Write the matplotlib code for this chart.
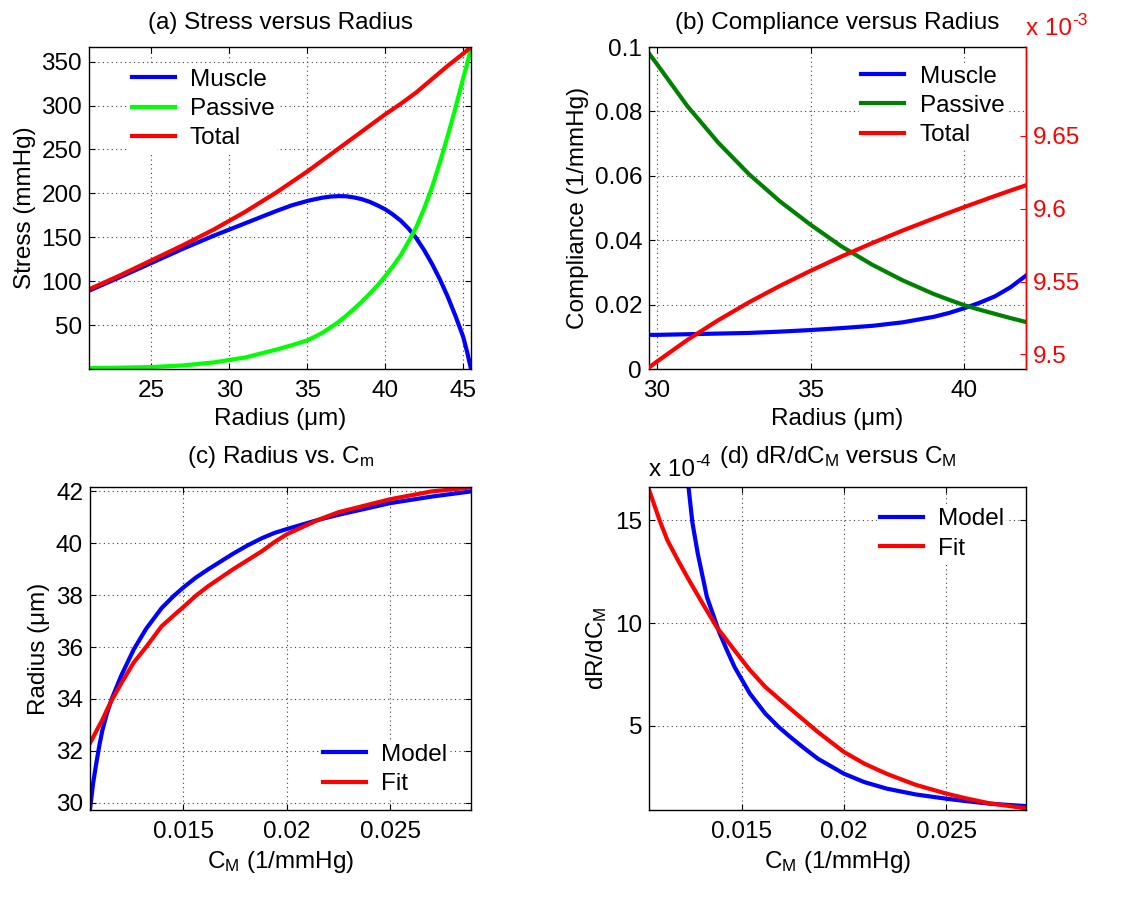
import matplotlib
matplotlib.use('Agg')
import matplotlib.pyplot as plt
from matplotlib.ticker import FixedLocator, FixedFormatter

plt.rcParams['font.family'] = ['Liberation Sans', 'DejaVu Sans']
plt.rcParams['mathtext.fontset'] = 'custom'
plt.rcParams['mathtext.rm'] = 'Liberation Sans'
plt.rcParams['mathtext.it'] = 'Liberation Sans:italic'
plt.rcParams['mathtext.default'] = 'regular'
plt.rcParams['font.size'] = 17.5
plt.rcParams['axes.linewidth'] = 1.0

FS = 17.5

# (a) stress versus radius
radius_a = [21, 23, 25, 27, 29, 31, 33, 34, 35, 35.5, 36, 36.5, 37, 37.5, 38, 38.5, 39,
            39.5, 40, 40.5, 41, 41.5, 42, 42.5, 43, 43.5, 44, 44.5, 45, 45.25, 45.5]
muscle_a = [89.5, 105, 121, 137, 152, 166, 180, 186.5, 191.5, 193.5, 195.3, 196.5, 197,
            196.8, 195.5, 193.5, 190.5, 186.5, 182, 176, 169, 160, 149, 135.5, 120,
            102.5, 83, 61, 37, 20, 0.5]
passive_a = [1.5, 2.0, 2.7, 4.5, 8, 13.5, 22.5, 27.5, 33, 37.3, 42, 47.8, 54, 61, 69, 77,
             86, 95.5, 106, 117.5, 130, 145.5, 162, 183, 207, 235, 265, 297, 331, 347,
             365.5]
total_a = [91, 107, 124, 141, 159, 179, 201, 213, 225, 231.5, 238, 244.5, 251, 257.5, 264,
           270.5, 277, 283.5, 290, 296, 302, 308.5, 315, 322.5, 330, 337.5, 345, 352, 359,
           362.7, 366.5]

# (b) compliance versus radius (total on right axis, x 10^-3)
radius_b = [29.75, 30, 31, 32, 33, 34, 35, 36, 37, 38, 39, 39.5, 40, 40.5, 41, 41.5, 42]
muscle_b = [0.0106, 0.0106, 0.0108, 0.0110, 0.0112, 0.0116, 0.0121, 0.0127, 0.0134,
            0.0145, 0.0162, 0.0174, 0.0189, 0.0206, 0.0226, 0.0254, 0.0290]
passive_b = [0.098, 0.0948, 0.0816, 0.0703, 0.0605, 0.0521, 0.0448, 0.0381, 0.0324,
             0.0275, 0.0233, 0.0215, 0.0198, 0.0184, 0.0171, 0.0158, 0.0146]
total_b = [9.491, 9.495, 9.510, 9.5235, 9.5358, 9.547, 9.5574, 9.5672, 9.5764,
           9.5851, 9.5933, 9.5973, 9.6012, 9.605, 9.6088, 9.6125, 9.6161]

# (c) radius vs C_m
cm_c = [0.01048, 0.01063, 0.01078, 0.01093, 0.01108, 0.0113, 0.01153, 0.01199, 0.01259,
        0.01319, 0.01394, 0.0145, 0.0150, 0.0156, 0.0162, 0.0174, 0.0181, 0.0188, 0.0194,
        0.0200, 0.0215, 0.0225, 0.0250, 0.0270, 0.0289]
model_c = [29.75, 30.75, 31.5, 32.2, 32.8, 33.45, 34.0, 34.9, 35.9,
           36.7, 37.5, 37.95, 38.3, 38.68, 39.0, 39.6, 39.92, 40.2, 40.4,
           40.55, 40.9, 41.1, 41.55, 41.8, 42.0]
fit_c = [32.3, 32.52, 32.75, 32.98, 33.2, 33.58, 33.95, 34.6, 35.4,
         36.0, 36.8, 37.2, 37.55, 37.98, 38.35, 39.0, 39.35, 39.7, 40.05,
         40.35, 40.9, 41.2, 41.7, 42.0, 42.15]

# (d) dR/dC_M versus C_M (x 10^-4)
cm_model_d = [0.01241, 0.0126, 0.01286, 0.01331, 0.01391, 0.0143, 0.01466, 0.01541,
              0.01617, 0.0168, 0.01738, 0.0180, 0.01873, 0.0200, 0.0210, 0.0221, 0.0235,
              0.0250, 0.0260, 0.0271, 0.0289]
model_d = [16.63, 14.9, 13.4, 11.27, 9.56, 8.65, 7.86, 6.56, 5.58, 4.95, 4.45, 3.95,
           3.39, 2.66, 2.25, 1.93, 1.65, 1.44, 1.32, 1.2, 1.08]
cm_fit_d = [0.01048, 0.0110, 0.01138, 0.0119, 0.01244, 0.0131, 0.01379, 0.01466, 0.0154,
            0.01617, 0.01738, 0.01873, 0.0200, 0.0210, 0.0221, 0.0235, 0.0250, 0.0260,
            0.0271, 0.0289]
fit_d = [16.5, 15.0, 14.03, 13.05, 12.08, 10.95, 9.8, 8.67, 7.72, 6.88, 5.83, 4.69,
         3.72, 3.15, 2.65, 2.12, 1.69, 1.45, 1.22, 0.97]

W, H = 1126, 898
fig = plt.figure(figsize=(W / 100, H / 100), dpi=100)


def px_axes(left, top, right, bottom):
    return fig.add_axes([left / W, 1 - bottom / H, (right - left) / W, (bottom - top) / H])


def style(ax, right_ticks=True):
    ax.grid(True, color='0.25', linestyle=(0, (1, 3)), linewidth=0.8)
    ax.tick_params(direction='in', length=4, width=0.8, top=True, right=right_ticks,
                   labelsize=FS)
    ax.tick_params(axis='x', pad=8)
    ax.tick_params(axis='y', pad=5)


def add_legend(ax, handles, labels, x, y):
    leg = ax.legend(handles, labels, loc='upper left', bbox_to_anchor=(x, y),
                    fontsize=FS, frameon=True, facecolor='white', edgecolor='none',
                    framealpha=1, borderpad=0.1, borderaxespad=0, handlelength=1.77,
                    handletextpad=0.62, labelspacing=0.3)
    leg.get_frame().set_boxstyle('square', pad=0)
    return leg


def power_label(ax, x, y, exponent, color='black', ha='left'):
    base = ax.text(x, y, 'x 10', color=color, fontsize=FS, transform=ax.transAxes,
                   ha=ha, va='baseline')
    ax.annotate(exponent, xy=(1.0, 1.0), xycoords=base, xytext=(0.5, -2),
                textcoords='offset points', color=color, fontsize=12.5,
                ha='left', va='center')


lw = 3.0

# (a)
ax = px_axes(89, 47, 471, 369)
h1, = ax.plot(radius_a, muscle_a, color='blue', lw=lw)
h2, = ax.plot(radius_a, passive_a, color='#00ff00', lw=lw)
h3, = ax.plot(radius_a, total_a, color='red', lw=lw)
ax.set_xlim(21, 45.5)
ax.set_ylim(0.5, 366.5)
ax.set_xticks([25, 30, 35, 40, 45])
ax.set_yticks([50, 100, 150, 200, 250, 300, 350])
style(ax)
ax.set_title('(a) Stress versus Radius', fontsize=FS, pad=13)
ax.set_xlabel('Radius (μm)', fontsize=FS, labelpad=4)
ax.set_ylabel('Stress (mmHg)', fontsize=FS, labelpad=4)
add_legend(ax, [h1, h2, h3], ['Muscle', 'Passive', 'Total'], 0.105, 0.94)

# (b)
ax = px_axes(649, 47, 1026, 369)
ax2 = ax.twinx()
h1, = ax.plot(radius_b, muscle_b, color='blue', lw=lw)
h2, = ax.plot(radius_b, passive_b, color='green', lw=lw)
h3, = ax2.plot(radius_b, total_b, color='red', lw=lw)
ax.set_xlim(29.75, 42)
ax.set_ylim(0, 0.1)
ax.set_xticks([30, 35, 40])
ax.yaxis.set_major_locator(FixedLocator([0, 0.02, 0.04, 0.06, 0.08, 0.1]))
ax.yaxis.set_major_formatter(FixedFormatter(['0', '0.02', '0.04', '0.06', '0.08', '0.1']))
style(ax, right_ticks=False)
ax2.set_ylim(9.49, 9.711)
ax2.yaxis.set_major_locator(FixedLocator([9.5, 9.55, 9.6, 9.65]))
ax2.yaxis.set_major_formatter(FixedFormatter(['9.5', '9.55', '9.6', '9.65']))
ax2.tick_params(axis='y', direction='in', length=4, width=0.8, colors='red',
                labelsize=FS, pad=5)
for side in ['left', 'top', 'bottom']:
    ax2.spines[side].set_visible(False)
ax2.spines['right'].set_color('red')
power_label(ax2, 1.0, 1.0 + 12 / 322, '-3', color='red')
ax.set_title('(b) Compliance versus Radius', fontsize=FS, pad=13)
ax.set_xlabel('Radius (μm)', fontsize=FS, labelpad=4)
ax.set_ylabel('Compliance (1/mmHg)', fontsize=FS, labelpad=4)
add_legend(ax2, [h1, h2, h3], ['Muscle', 'Passive', 'Total'], 0.557, 0.95)

# (c)
ax = px_axes(90, 487, 471, 810)
h1, = ax.plot(cm_c, model_c, color='blue', lw=lw)
h2, = ax.plot(cm_c, fit_c, color='red', lw=lw)
ax.set_xlim(0.01048, 0.0289)
ax.set_ylim(29.72, 42.17)
ax.xaxis.set_major_locator(FixedLocator([0.015, 0.02, 0.025]))
ax.xaxis.set_major_formatter(FixedFormatter(['0.015', '0.02', '0.025']))
ax.set_yticks([30, 32, 34, 36, 38, 40, 42])
style(ax)
ax.set_title('(c) Radius vs. C$_m$', fontsize=FS, pad=17)
ax.set_xlabel('C$_M$ (1/mmHg)', fontsize=FS, labelpad=4)
ax.set_ylabel('Radius (μm)', fontsize=FS, labelpad=4)
add_legend(ax, [h1, h2], ['Model', 'Fit'], 0.606, 0.2125)

# (d)
ax = px_axes(649, 487, 1026, 810)
h1, = ax.plot(cm_model_d, model_d, color='blue', lw=lw)
h2, = ax.plot(cm_fit_d, fit_d, color='red', lw=lw)
ax.set_xlim(0.01048, 0.0289)
ax.set_ylim(0.89, 16.63)
ax.xaxis.set_major_locator(FixedLocator([0.015, 0.02, 0.025]))
ax.xaxis.set_major_formatter(FixedFormatter(['0.015', '0.02', '0.025']))
ax.set_yticks([5, 10, 15])
style(ax)
power_label(ax, 0.0, 1.0 + 11 / 323, '-4')
ax.set_title('(d) dR/dC$_M$ versus C$_M$', fontsize=FS, pad=17)
ax.set_xlabel('C$_M$ (1/mmHg)', fontsize=FS, labelpad=4)
ax.set_ylabel('dR/dC$_M$', fontsize=FS, labelpad=4)
add_legend(ax, [h1, h2], ['Model', 'Fit'], 0.605, 0.9415)

fig.savefig('out.png', dpi=100)
